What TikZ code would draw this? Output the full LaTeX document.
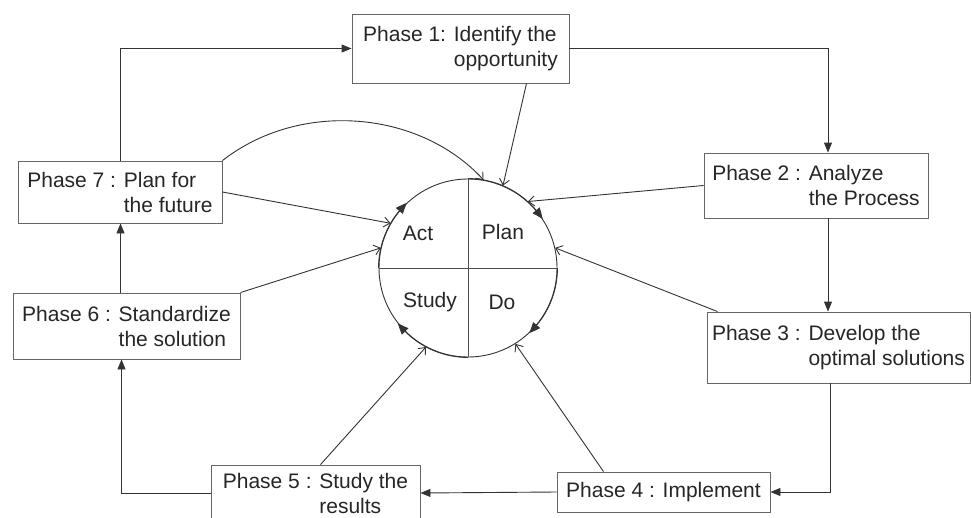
\documentclass[tikz,border=0pt]{standalone}
\usepackage{fontspec}
\setmainfont{Liberation Sans}
\usetikzlibrary{arrows.meta,bending}
\tikzstyle{phase} = [rectangle, draw=black!60, line width=0.9pt, align=left, inner sep=0pt, font=\fontsize{21}{25}\selectfont, text=black!85]
\tikzstyle{quarter} = [font=\fontsize{21}{25}\selectfont, text=black!85]

\begin{document}
\begin{tikzpicture}[x=1pt,y=1pt]
	\tikzset{link/.style={draw=black!80, line width=0.9pt, -{Triangle[length=10pt,width=8pt]}},
		feed/.style={draw=black!80, line width=0.9pt, -{Straight Barb[length=6pt,width=10pt]}},
		flow/.style={draw=black!80, line width=0.9pt, -{Triangle[length=11pt,width=9pt,bend]}}}
	\useasboundingbox (0,0) rectangle (971,-517);
	\node[phase, minimum width=217pt, minimum height=69pt] (p1) at (460.5,-48.5) {Phase 1: Identify the\\\hphantom{Phase 1: }opportunity};
	\node[phase, minimum width=224pt, minimum height=65pt] (p2) at (816,-185.5) {Phase 2 : Analyze\\\hphantom{Phase 2 : }the Process};
	\node[phase, minimum width=263pt, minimum height=71pt] (p3) at (838.5,-347.5) {Phase 3 : Develop the\\\hphantom{Phase 3 : }optimal solutions};
	\node[phase, minimum width=213pt, minimum height=40pt] (p4) at (663.5,-492) {Phase 4 : Implement};
	\node[phase, minimum width=209pt, minimum height=56pt] (p5) at (315.5,-493) {Phase 5 : Study the\\\hphantom{Phase 5 : }results};
	\node[phase, minimum width=227pt, minimum height=66pt] (p6) at (126.5,-326) {Phase 6 : Standardize\\\hphantom{Phase 6 : }the solution};
	\node[phase, minimum width=204pt, minimum height=62pt] (p7) at (120,-192) {Phase 7 : Plan for\\\hphantom{Phase 7 : }the future};

	\node[circle, draw=black!80, line width=0.9pt, minimum size=178pt, inner sep=0pt] (pdca) at (468,-268) {};
	\draw[black!70, line width=0.9pt] (pdca.north) -- (pdca.south);
	\draw[black!70, line width=0.9pt] (pdca.west) -- (pdca.east);
	\node[quarter] (act) at (418,-233) {Act};
	\node[quarter] (plan) at (503,-232) {Plan};
	\node[quarter] (study) at (430,-302) {Study};
	\node[quarter] (do) at (502,-302) {Do};

	\draw[flow] (pdca.180) arc[start angle=180, end angle=133, radius=89pt];
	\draw[flow] (pdca.90) arc[start angle=90, end angle=33, radius=89pt];
	\draw[flow] (pdca.0) arc[start angle=0, end angle=-47, radius=89pt];
	\draw[flow] (pdca.-90) arc[start angle=-90, end angle=-142, radius=89pt];

	\draw[link] (p7.north) |- (p1.west);
	\draw[link] (p1.east) -| ([xshift=12pt]p2.north);
	\draw[link] ([xshift=12pt]p2.south) -- ([xshift=12pt]p2.south |- p3.north);
	\draw[link] ([xshift=-8pt]p3.south) |- (p4.east);
	\draw[link] (p4.west) -- (p5.east);
	\draw[link] (p5.west) -| ([xshift=-5pt]p6.south);
	\draw[link] ([xshift=-6pt]p6.north) -- ([xshift=-6pt]p6.north |- p7.south);

	\draw[feed] ([xshift=66pt]p1.south) -- (pdca.67);
	\draw[feed] (p7.north east) .. controls (300,-100) and (420,-110) .. (pdca.80);
	\draw[feed] (p7.east) -- (pdca.150);
	\draw[feed] (p6.north east) -- (pdca.167);
	\draw[feed] (p2.west) -- (pdca.48);
	\draw[feed] ([xshift=11pt]p3.north west) -- (pdca.13);
	\draw[feed] ([xshift=-60pt]p4.north) -- (pdca.-58);
	\draw[feed] ([xshift=5pt]p5.north) -- (pdca.-118);
\end{tikzpicture}
\end{document}
